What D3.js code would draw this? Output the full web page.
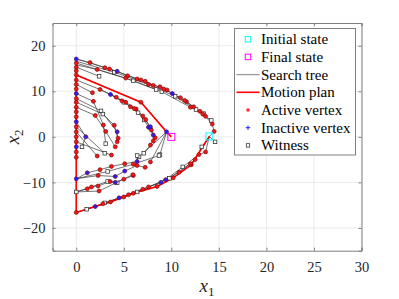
<!DOCTYPE html>
<html>
<head>
<meta charset="utf-8">
<script src="https://cdn.jsdelivr.net/npm/d3@7"></script>
<style>
  body { margin: 0; background: #fff; }
  text { font-family: "Liberation Serif", "DejaVu Serif", serif; }
</style>
</head>
<body>
<div id="chart"></div>
<script>
// axis ticks
var xTicks = [0, 5, 10, 15, 20, 25, 30];
var yTicks = [-20, -10, 0, 10, 20];

// start / goal
var initialState = [14.0, 0.1];
var finalState = [10.0, 0.0];

// motion plan
var planX = [14.0, 12.1, 10.2, 8.5, 6.0, 3.6, 2.0, 0, 0, 6.8, 9.5, 10.0];
var planY = [0.1, -6.1, -9.0, -10.9, -12.4, -14.3, -15.3, -16.6, 13.6, 7.6, 1.1, 0.0];

// search tree branches: [x, y, kind]  a = active, i = inactive, w = witness, '' = already drawn
var spine = [[0,-16.6,'a'],[0,-12.1,'w'],[0,-9.2,'i'],[0,-4.5,'a'],[0,-3.3,'a'],[0,-2.2,'i'],[0,-1.1,'a'],
  [0,0,'a'],[0,1.1,'a'],[0,2.2,'a'],[0,3.3,'i'],[0,4.4,'a'],[0,5.5,'a'],[0,6.5,'a'],[0,7.6,'a'],[0,8.4,'a'],
  [0,9.5,'i'],[0,10.5,'a'],[0,11.5,'a'],[0,12.5,'a'],[0,13.6,'a'],[0,14.5,'a'],[0,15.3,'a'],[0,16.2,'a'],[0,17.1,'i']];

var upperBundle = [
  [[14.0,0.1,''],[14.5,1.2,'a'],[14.3,2.8,'a'],[13.6,4.5,'a'],[13.0,5.6,'a'],[12.35,6.6,'a'],[11.6,7.7,'a'],[10.95,8.6,'a'],
   [10.1,9.5,'i'],[9.55,10.3,'a'],[8.8,11.0,'a'],[8.1,11.3,'a'],[7.25,12.2,'a'],[6.4,12.7,'a'],[5.4,13.4,'a'],
   [4.3,14.4,'i'],[3.0,15.2,'a'],[1.45,16.3,'a'],[0,17.1,'']],
  [[0,17.1,''],[3.5,14.9,'a'],[6.8,12.5,'a'],[9.2,10.5,'a'],[11.4,8.0,'a'],[13.3,5.0,'a']],
  [[0,16.6,''],[4.0,14.2,'w'],[7.6,11.5,'a'],[10.4,8.9,'w'],[12.6,6.0,'w'],[14.2,3.6,'w']],
  [[0,16.2,''],[5.2,12.9,'a'],[9.0,9.9,'w'],[12.0,6.5,'a'],[13.4,5.1,'w']],
  [[0,15.8,''],[2.2,14.8,'a'],[6.0,12.3,'w'],[8.4,10.4,'w']]
];

var lowerBundle = [
  [[14.0,0.1,''],[12.1,-6.1,'a'],[10.2,-9.0,'a'],[8.5,-10.9,'a'],[6.0,-12.4,'a'],[5.0,-13.2,'a'],[3.6,-14.3,'a'],[2.0,-15.3,'i'],[0,-16.6,'']],
  [[14.0,0.1,''],[14.6,-1.1,'w']],
  [[14.0,0.1,''],[13.6,-3.3,'a'],[12.9,-3.9,'a'],[11.2,-6.6,'w'],[9.4,-9.4,'i'],[7.6,-11.0,'a'],[4.5,-13.4,'i'],[1.1,-15.9,'w']],
  [[14.0,0.1,''],[13.2,-2.2,'w'],[12.5,-5.0,'a'],[10.8,-7.8,'a'],[8.9,-10.0,'i'],[7.0,-11.5,'a'],[5.5,-12.7,'a'],[3.0,-14.5,'w']],
  [[0,-16.6,''],[2.8,-14.7,'a'],[6.4,-12.1,'w'],[9.8,-9.1,'w'],[12.0,-5.9,'a']]
];

var innerUpper = [
  [[0,13.6,''],[6.8,7.6,'a'],[9.5,1.1,'i']],
  [[9.5,1.1,''],[8.8,-3.9,'w']],
  [[9.5,1.1,''],[6.6,-4.4,'w']],
  [[9.5,1.1,''],[7.8,-5.5,'a']],
  [[0,15.3,''],[2.4,13.3,'w']],
  [[0,11.5,''],[1.7,9.7,'a']],
  [[0,12.5,''],[2.5,10.4,'a'],[3.6,9.3,'i'],[4.8,7.9,'a'],[5.7,6.6,'a'],[6.5,5.3,'w'],[7.15,3.7,'w'],[7.6,2.1,'i'],
   [8.1,0.4,'i'],[8.1,-0.9,'a'],[7.8,-1.8,'a'],[7.1,-3.6,'w']],
  [[2.5,10.4,''],[4.2,8.7,'a'],[5.2,7.6,'a'],[6.3,6.1,'a'],[7.3,3.8,'a'],[7.9,1.5,'a'],[8.3,-0.2,'a']],
  [[3.6,9.3,''],[5.0,7.6,'w'],[6.1,6.2,'a'],[7.0,4.6,'a'],[7.8,2.2,'i']]
];

var innerMiddle = [
  [[0,9.5,''],[1.8,7.8,'a'],[2.85,2.6,'a'],[3.1,-1.5,'w']],
  [[0,8.4,''],[2.6,5.7,'w'],[4.3,1.1,'i'],[4.3,-1.1,'a']],
  [[0,6.5,''],[2.0,4.7,'a'],[3.1,1.2,'a'],[4.1,-2.2,'a']],
  [[0,7.6,''],[2.8,5.0,'w'],[4.0,2.55,'a'],[4.4,-0.3,'a']],
  [[0,3.3,''],[1.0,0.0,'i'],[0.6,-2.2,'w']],
  [[0,2.2,''],[3.0,-3.6,'w']],
  [[0,1.1,''],[2.2,-4.2,'a']],
  [[0,-1.1,''],[3.7,-4.0,'a']]
];

var innerLower = [
  [[0,-9.2,''],[1.16,-7.9,'i'],[2.5,-7.2,'a'],[3.7,-6.5,'a'],[5.1,-5.9,'a'],[6.4,-5.4,'i'],[6.4,-4.1,'w']],
  [[0,-9.2,''],[2.3,-8.5,'a'],[4.1,-8.7,'i'],[5.1,-7.5,'i'],[6.4,-6.3,'a'],[7.25,-6.7,'a']],
  [[0,-9.2,''],[3.3,-7.6,'w'],[6.0,-6.0,'a'],[8.7,-4.1,'w']],
  [[0,-12.1,''],[1.16,-11.4,'a'],[1.6,-11.0,'a'],[2.3,-10.8,'a'],[3.56,-9.8,'a'],[4.1,-10.0,'i'],[5.0,-9.3,'a'],[6.0,-8.5,'a']],
  [[0,-12.1,''],[3.3,-9.8,'w'],[4.3,-10.1,'w']],
  [[0,-12.1,''],[2.4,-11.9,'a'],[5.95,-8.3,'a']]
];

var legendLabels = ["Initial state", "Final state", "Search tree", "Motion plan", "Active vertex", "Inactive vertex", "Witness"];

var W = 399, H = 299;
var margin = {top: 23, right: 37.5, bottom: 48.3, left: 52.5};
var width = W - margin.left - margin.right,
    height = H - margin.top - margin.bottom;

var svg = d3.select("#chart").append("svg")
    .attr("width", W)
    .attr("height", H);
var g = svg.append("g")
    .attr("transform", "translate(" + margin.left + "," + margin.top + ")");

var xScale = d3.scaleLinear().domain([-2.5, 30]).range([0, width]);
var yScale = d3.scaleLinear().domain([-25, 25]).range([height, 0]);

// grid
g.selectAll(".gx").data(xTicks).enter().append("line")
    .attr("x1", function(d) { return xScale(d); }).attr("x2", function(d) { return xScale(d); })
    .attr("y1", 0).attr("y2", height)
    .attr("stroke", "#e6e6e6").attr("stroke-width", 0.8);
g.selectAll(".gy").data(yTicks).enter().append("line")
    .attr("y1", function(d) { return yScale(d); }).attr("y2", function(d) { return yScale(d); })
    .attr("x1", 0).attr("x2", width)
    .attr("stroke", "#e6e6e6").attr("stroke-width", 0.8);

var branches = [spine].concat(upperBundle, lowerBundle, innerUpper, innerMiddle, innerLower);

var line = d3.line()
    .x(function(d) { return xScale(d[0]); })
    .y(function(d) { return yScale(d[1]); });

// tree edges
g.selectAll(".edge").data(branches).enter().append("path")
    .attr("d", line)
    .attr("fill", "none")
    .attr("stroke", "#3a3a3a")
    .attr("stroke-width", 0.7);

// motion plan
var plan = d3.range(planX.length).map(function(i) { return [planX[i], planY[i]]; });
g.append("path").datum(plan)
    .attr("d", line)
    .attr("fill", "none")
    .attr("stroke", "#ff0000")
    .attr("stroke-width", 1.6);

// vertices
var pts = [];
branches.forEach(function(b) {
    b.forEach(function(p) { if (p[2] !== '') pts.push(p); });
});

function square(sel, x, y, s, col, fill, sw) {
    sel.append("rect")
        .attr("x", x - s / 2).attr("y", y - s / 2)
        .attr("width", s).attr("height", s)
        .attr("fill", fill).attr("stroke", col).attr("stroke-width", sw);
}
function activeMark(sel, x, y) {
    sel.append("circle").attr("cx", x).attr("cy", y).attr("r", 2.0)
        .attr("fill", "#f01818").attr("stroke", "#7a0000").attr("stroke-width", 0.6);
}
function plusMark(sel, x, y, s) {
    sel.append("path")
        .attr("d", "M" + (x - s) + "," + y + "H" + (x + s) + "M" + x + "," + (y - s) + "V" + (y + s))
        .attr("stroke", "#2020ff").attr("stroke-width", 1);
}

pts.filter(function(p) { return p[2] === 'w'; }).forEach(function(p) {
    square(g, xScale(p[0]), yScale(p[1]), 3.6, "#222", "#fff", 0.7);
});
pts.filter(function(p) { return p[2] === 'a'; }).forEach(function(p) {
    activeMark(g, xScale(p[0]), yScale(p[1]));
});
pts.filter(function(p) { return p[2] === 'i'; }).forEach(function(p) {
    g.append("circle").attr("cx", xScale(p[0])).attr("cy", yScale(p[1])).attr("r", 2.0)
        .attr("fill", "#6a1fa8").attr("stroke", "#5a0030").attr("stroke-width", 0.6);
    plusMark(g, xScale(p[0]), yScale(p[1]), 2.0);
});

// start and goal
square(g, xScale(initialState[0]), yScale(initialState[1]), 7, "#00ffff", "none", 1);
square(g, xScale(finalState[0]), yScale(finalState[1]), 7, "#ff00ff", "none", 1);

// axes
var xAxisB = d3.axisBottom(xScale).tickValues(xTicks).tickSize(-3).tickPadding(11);
var xAxisT = d3.axisTop(xScale).tickValues(xTicks).tickSize(-3).tickFormat("");
var yAxisL = d3.axisLeft(yScale).tickValues(yTicks).tickSize(-3).tickPadding(7);
var yAxisR = d3.axisRight(yScale).tickValues(yTicks).tickSize(-3).tickFormat("");

function styleAxis(a) {
    a.attr("font-family", null);
    a.selectAll("path, line").attr("stroke", "#808080");
    a.selectAll("text").attr("fill", "#262626")
        .style("font-family", "'Liberation Serif', serif").style("font-size", "14.5px");
}
styleAxis(g.append("g").attr("transform", "translate(0," + height + ")").call(xAxisB));
styleAxis(g.append("g").call(xAxisT));
styleAxis(g.append("g").call(yAxisL));
styleAxis(g.append("g").attr("transform", "translate(" + width + ",0)").call(yAxisR));
g.selectAll(".domain").attr("stroke", "#808080");

// axis labels
var xl = svg.append("text")
    .attr("x", margin.left + width / 2).attr("y", 292)
    .attr("text-anchor", "middle")
    .style("font-size", "19px").attr("fill", "#262626");
xl.append("tspan").style("font-style", "italic").text("x");
xl.append("tspan").attr("dy", 4).style("font-size", "13px").text("1");

var yl = svg.append("text")
    .attr("transform", "translate(19," + (margin.top + height / 2) + ") rotate(-90)")
    .attr("text-anchor", "middle")
    .style("font-size", "19px").attr("fill", "#262626");
yl.append("tspan").style("font-style", "italic").text("x");
yl.append("tspan").attr("dy", 4).style("font-size", "13px").text("2");

// legend
var lg = svg.append("g").attr("transform", "translate(234.5,28.5)");
lg.append("rect").attr("width", 121).attr("height", 126.5)
    .attr("fill", "#fff").attr("stroke", "#808080").attr("stroke-width", 1);
var rowH = 17.7, rowY0 = 10.7, mx = 13.5;
legendLabels.forEach(function(lbl, i) {
    var y = rowY0 + i * rowH;
    if (i === 0) square(lg, mx, y, 5.5, "#00ffff", "none", 1);
    if (i === 1) square(lg, mx, y, 5.5, "#ff00ff", "none", 1);
    if (i === 2) lg.append("line").attr("x1", 2).attr("x2", 25).attr("y1", y).attr("y2", y)
        .attr("stroke", "#9a9a9a").attr("stroke-width", 1.3);
    if (i === 3) lg.append("line").attr("x1", 2).attr("x2", 25).attr("y1", y).attr("y2", y)
        .attr("stroke", "#ff0000").attr("stroke-width", 1.6);
    if (i === 4) lg.append("circle").attr("cx", mx).attr("cy", y).attr("r", 1.8).attr("fill", "#ff3030");
    if (i === 5) plusMark(lg, mx, y, 2.2);
    if (i === 6) square(lg, mx, y, 3.4, "#222", "#fff", 0.7);
    lg.append("text").attr("x", 26.5).attr("y", y + 5)
        .style("font-size", "15px").attr("fill", "#000").text(lbl);
});
</script>
</body>
</html>
